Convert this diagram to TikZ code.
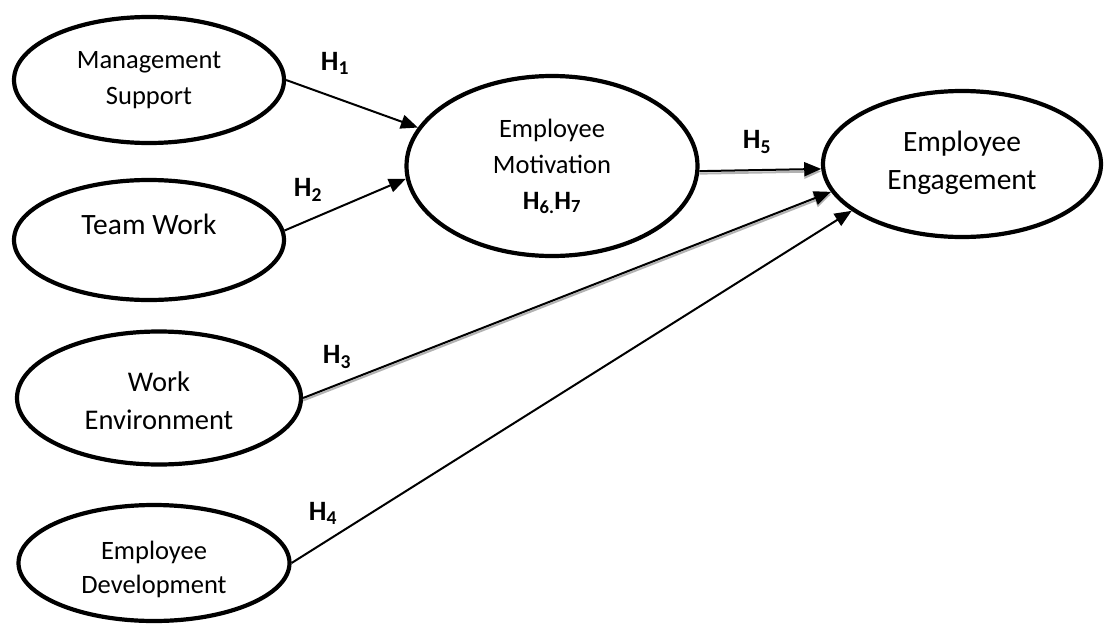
\documentclass[tikz,border=0pt]{standalone}
\usepackage{fontspec}
\setmainfont{Carlito}
\usetikzlibrary{shapes.geometric,arrows.meta}
\begin{document}
\begin{tikzpicture}[x=1pt,y=-1pt,
  oval/.style={draw, ellipse, line width=4.2pt, inner sep=0pt},
  conn/.style={line width=2pt, -{Triangle[length=17pt,width=14pt]}},
  shadowline/.style={line width=2pt, draw=gray!60, -{Triangle[length=17pt,width=14pt]}, fill=gray!60},
  lbl/.style={font=\fontsize{28}{30}\selectfont\bfseries, inner sep=0pt},
  txt/.style={align=center, inner sep=0pt}]
\useasboundingbox (0,0) rectangle (1104,627);
% ellipses
\node[oval, minimum width=270pt, minimum height=126pt] (ms) at (149,80) {};
\node[oval, minimum width=270pt, minimum height=120pt] (tw) at (149,240) {};
\node[oval, minimum width=291pt, minimum height=180pt] (em) at (552,166) {};
\node[oval, minimum width=278pt, minimum height=146pt] (ee) at (962,164) {};
\node[oval, minimum width=284pt, minimum height=133pt] (we) at (159,398) {};
\node[oval, minimum width=271pt, minimum height=116pt] (ed) at (154,563) {};
% texts
\node[txt, font=\fontsize{26.5}{36}\selectfont] (mst) at (149,80) {Management\\Support};
\node[txt, font=\fontsize{29.5}{38}\selectfont] (twt) at (149,224) {Team Work};
\node[txt, font=\fontsize{26.5}{36}\selectfont] (emt) at (552,166) {Employee\\Motivation\\\textbf{H\textsubscript{6.}H\textsubscript{7}}};
\node[txt, font=\fontsize{29.5}{38}\selectfont] (eet) at (962,163) {Employee\\Engagement};
\node[txt, font=\fontsize{28.5}{38}\selectfont] (wet) at (159,401) {Work\\Environment};
\node[txt, font=\fontsize{26.5}{34}\selectfont] (edt) at (154,569) {Employee\\Development};
% labels
\node[lbl] (h1) at (335,63) {H\textsubscript{1}};
\node[lbl] (h2) at (308,190) {H\textsubscript{2}};
\node[lbl] (h3) at (337,357) {H\textsubscript{3}};
\node[lbl] (h4) at (323,513) {H\textsubscript{4}};
\node[lbl] (h5) at (757,142) {H\textsubscript{5}};
% connectors
\draw[conn] (ms.east) -- (em.164);
\draw[conn] (tw.4) -- (em.185);
\draw[shadowline] ([yshift=-2.5pt]em.-2) -- ([yshift=-2.5pt]ee.182);
\draw[conn] (em.-2) -- (ee.182);
\draw[shadowline] ([yshift=-2.5pt]we.east) -- ([yshift=-2.5pt]ee.192);
\draw[conn] (we.east) -- (ee.192);
\draw[conn] (ed.east) -- (ee.203);
\end{tikzpicture}
\end{document}
